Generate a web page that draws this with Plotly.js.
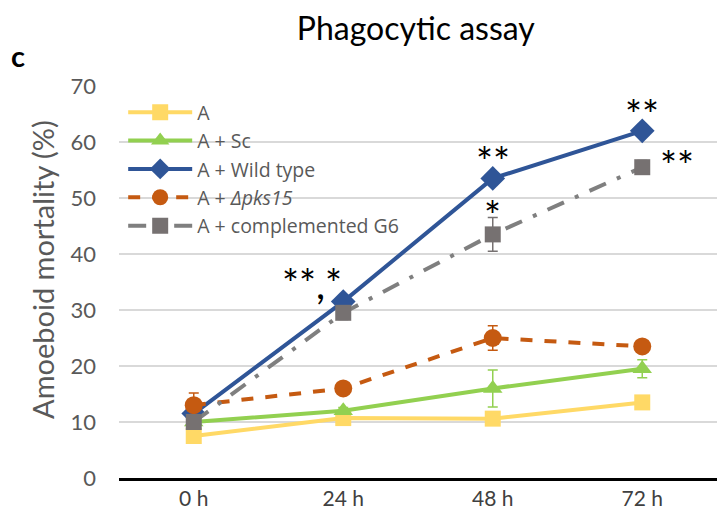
<!DOCTYPE html>
<html><head><meta charset="utf-8">
<script src="https://cdn.plot.ly/plotly-3.0.1.min.js"></script>
<style>html,body{margin:0;padding:0;background:#fff;}#chart{width:717px;height:532px;}</style>
</head><body><div id="chart"></div>
<script>
const categories = ["0 h", "24 h", "48 h", "72 h"];
const seriesNames = ["A", "A + Sc", "A + Wild type", "A + <i>Δpks15</i>", "A + complemented G6"];
const valA = [7.5, 10.7, 10.6, 13.5];
const errA = [0.5, 0.5, 0.5, 0.6];
const valSc = [10, 12, 16, 19.5];
const errSc = [0.4, 0.6, 3.3, 1.6];
const valWT = [11.5, 31.5, 53.5, 62];
const errWT = [0.5, 0.8, 1, 0.5];
const valPks = [13, 16, 25, 23.5];
const errPks = [2.2, 0.5, 2.2, 0.5];
const valG6 = [10, 29.5, 43.5, 55.5];
const errG6 = [0.8, 1.2, 3, 1.2];
const annTexts = ["**,*", "**", "*", "**", "**"];
const yTitle = "Amoeboid mortality (%)";

const fontFam = "Lato, 'Noto Sans', sans-serif";
const legFam = "'Open Sans', Lato, sans-serif";
function tr(name, y, err, color, mcolor, symbol, msize, dash) {
  return {
    type: "scatter", mode: "lines+markers", x: categories, y: y, name: name,
    line: {color: color, width: 4, dash: dash},
    marker: {color: mcolor, symbol: symbol, size: msize},
    error_y: {type: "data", array: err, visible: true, color: mcolor, thickness: 1.5, width: 5}
  };
}
const data = [
  tr(seriesNames[0], valA, errA, "#FFD966", "#FFD966", "square", 16, "solid"),
  tr(seriesNames[1], valSc, errSc, "#92D050", "#92D050", "triangle-up", 17, "solid"),
  tr(seriesNames[2], valWT, errWT, "#2F5597", "#2F5597", "diamond", 19, "solid"),
  tr(seriesNames[3], valPks, errPks, "#C55A11", "#C55A11", "circle", 18, "dash"),
  tr(seriesNames[4], valG6, errG6, "#7F7F7F", "#767171", "square", 16, "18px,12px,4px,12px")
];
const annPos = [
  {x: 0.79, y: 34.6}, {x: 2, y: 56.5}, {x: 2, y: 46.7}, {x: 3, y: 64.9}, {x: 3.23, y: 55.8}
];
const annotations = annTexts.map((t, i) => ({
  x: annPos[i].x, y: annPos[i].y, xref: "x", yref: "y", text: t, showarrow: false,
  font: {family: fontFam, size: 40, color: "#000"}, yanchor: "middle", xanchor: "center"
}));
annotations.push({xref: "paper", yref: "paper", x: -0.184, y: 1.079, text: "<b>c</b>", showarrow: false,
  font: {family: fontFam, size: 29, color: "#000"}, xanchor: "left", yanchor: "middle"});
annotations.push({xref: "paper", yref: "paper", x: -0.129, y: 0.533, text: yTitle, showarrow: false,
  textangle: -90, font: {family: fontFam, size: 29, color: "#595959"}, xanchor: "center", yanchor: "middle"});
const layout = {
  width: 717, height: 532,
  margin: {l: 119, r: 0, t: 86, b: 54},
  paper_bgcolor: "#fff", plot_bgcolor: "#fff",
  title: {text: "Phagocytic assay", x: 0.58, xanchor: "center", y: 0.946, yanchor: "middle",
    font: {family: fontFam, size: 32, color: "#000"}},
  showlegend: true,
  legend: {x: 0.007, y: 0.982, xanchor: "left", yanchor: "top", bgcolor: "rgba(0,0,0,0)",
    font: {family: legFam, size: 19.5, color: "#595959"}, itemwidth: 64, tracegroupgap: 0},
  xaxis: {type: "category", range: [-0.5, 3.5], showgrid: false, showline: true, linecolor: "#000", linewidth: 3,
    ticks: "", tickfont: {family: fontFam, size: 21, color: "#404040"}, zeroline: false, fixedrange: true},
  yaxis: {range: [0, 70], dtick: 10, showgrid: true, gridcolor: "#D9D9D9", gridwidth: 1.5, zeroline: false,
    showline: false, ticks: "", tickfont: {family: fontFam, size: 22, color: "#595959"}, ticklabelstandoff: 22},
  annotations: annotations
};
Plotly.newPlot("chart", data, layout, {displayModeBar: false, staticPlot: true});
</script></body></html>
